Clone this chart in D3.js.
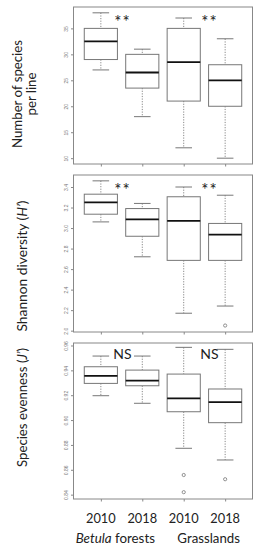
<!DOCTYPE html>
<html>
<head>
<meta charset="utf-8">
<title>Species richness, diversity and evenness</title>
<script src="https://d3js.org/d3.v7.min.js"></script>
<style>
  html, body { margin: 0; padding: 0; background: #fff; }
  svg { display: block; }
  .tick text { font-family: "Liberation Sans", Arial, sans-serif; fill: #777; }
  .lbl { font-family: Lato, "Open Sans", sans-serif; fill: #222; }
</style>
</head>
<body>
<svg id="chart"></svg>
<script>
// groups (year within habitat)
const years = ["2010", "2018", "2010", "2018"];
const habitats = ["Betula forests", "Grasslands"];

// number of species per line
const richLow = [27, 18, 12, 10];
const richQ1 = [29, 23.5, 21, 20];
const richMed = [32.5, 26.5, 28.5, 25];
const richQ3 = [35, 30, 35, 28];
const richHigh = [38, 31, 37, 33];
const richOut = [[], [], [], []];
const richTicks = [10, 15, 20, 25, 30, 35];

// Shannon diversity H'
const shanLow = [3.06, 2.72, 2.17, 2.24];
const shanQ1 = [3.135, 2.92, 2.685, 2.685];
const shanMed = [3.25, 3.085, 3.07, 2.935];
const shanQ3 = [3.33, 3.19, 3.305, 3.045];
const shanHigh = [3.46, 3.24, 3.40, 3.32];
const shanOut = [[], [], [], [2.05]];
const shanTicks = [2.0, 2.2, 2.4, 2.6, 2.8, 3.0, 3.2, 3.4];

// species evenness J'
const evenLow = [0.9196, 0.9135, 0.8773, 0.8679];
const evenQ1 = [0.9295, 0.9276, 0.9067, 0.8979];
const evenMed = [0.9356, 0.9318, 0.9175, 0.9145];
const evenQ3 = [0.9429, 0.9402, 0.937, 0.925];
const evenHigh = [0.9515, 0.9515, 0.9585, 0.9569];
const evenOut = [[], [], [0.8558, 0.842], [0.8524]];
const evenTicks = [0.84, 0.86, 0.88, 0.90, 0.92, 0.94, 0.96];

// significance of 2010 vs 2018 per habitat
const richSig = ["**", "**"];
const shanSig = ["**", "**"];
const evenSig = ["NS", "NS"];

const width = 260, height = 550;
const left = 73.5, right = 252.5;

const svg = d3.select("#chart").attr("width", width).attr("height", height);
svg.append("rect").attr("width", width).attr("height", height).attr("fill", "#fff");

// R boxplot style x range: 0.5..4.5 plus 4%
const x = d3.scaleLinear().domain([0.34, 4.66]).range([left, right]);
const boxHalf = (x(1.4) - x(0.6)) / 2;
const capHalf = boxHalf / 2;

const panels = [
  { top: 7, bottom: 164, domain: [8.88, 39.12], ticks: richTicks, fmt: d3.format("d"),
    low: richLow, q1: richQ1, med: richMed, q3: richQ3, high: richHigh, out: richOut, sig: richSig },
  { top: 175, bottom: 332, domain: [1.987, 3.517], ticks: shanTicks, fmt: d3.format(".1f"),
    low: shanLow, q1: shanQ1, med: shanMed, q3: shanQ3, high: shanHigh, out: shanOut, sig: shanSig },
  { top: 343, bottom: 499, domain: [0.8365, 0.962], ticks: evenTicks, fmt: d3.format(".2f"),
    low: evenLow, q1: evenQ1, med: evenMed, q3: evenQ3, high: evenHigh, out: evenOut, sig: evenSig }
];

const sigX = [122.5, 209.5];

panels.forEach(p => {
  const y = d3.scaleLinear().domain(p.domain).range([p.bottom, p.top]);
  const g = svg.append("g");

  // y axis with rotated labels
  const ya = g.append("g")
    .attr("transform", `translate(${left},0)`)
    .call(d3.axisLeft(y).tickValues(p.ticks).tickSize(2.5).tickFormat(p.fmt));
  ya.select(".domain").remove();
  ya.selectAll("line").attr("stroke", "#888");
  ya.selectAll("text")
    .attr("font-size", 5)
    .attr("x", 0).attr("y", -5.2).attr("dy", null)
    .attr("text-anchor", "middle")
    .attr("transform", "rotate(-90)");

  // x ticks at bottom
  const xa = g.append("g")
    .attr("transform", `translate(0,${p.bottom})`)
    .call(d3.axisBottom(x).tickValues([1, 2, 3, 4]).tickSize(2.5).tickFormat(""));
  xa.select(".domain").remove();
  xa.selectAll("line").attr("stroke", "#888");

  // frame
  g.append("rect")
    .attr("x", left).attr("y", p.top)
    .attr("width", right - left).attr("height", p.bottom - p.top)
    .attr("fill", "none").attr("stroke", "#888").attr("stroke-width", 1);

  years.forEach((yr, i) => {
    const cx = x(i + 1);
    const bx = g.append("g");
    // dotted whiskers
    bx.append("line").attr("x1", cx).attr("x2", cx)
      .attr("y1", y(p.high[i])).attr("y2", y(p.q3[i]))
      .attr("stroke", "#888").attr("stroke-dasharray", "1.2,1.4");
    bx.append("line").attr("x1", cx).attr("x2", cx)
      .attr("y1", y(p.q1[i])).attr("y2", y(p.low[i]))
      .attr("stroke", "#888").attr("stroke-dasharray", "1.2,1.4");
    // caps
    [p.high[i], p.low[i]].forEach(v => {
      bx.append("line").attr("x1", cx - capHalf).attr("x2", cx + capHalf)
        .attr("y1", y(v)).attr("y2", y(v)).attr("stroke", "#777");
    });
    // box
    bx.append("rect")
      .attr("x", cx - boxHalf).attr("width", boxHalf * 2)
      .attr("y", y(p.q3[i])).attr("height", y(p.q1[i]) - y(p.q3[i]))
      .attr("fill", "#fff").attr("stroke", "#777").attr("stroke-width", 1);
    // median
    bx.append("line").attr("x1", cx - boxHalf).attr("x2", cx + boxHalf)
      .attr("y1", y(p.med[i])).attr("y2", y(p.med[i]))
      .attr("stroke", "#111").attr("stroke-width", 1.8);
    // outliers
    bx.selectAll("circle").data(p.out[i]).join("circle")
      .attr("cx", cx).attr("cy", d => y(d)).attr("r", 1.6)
      .attr("fill", "none").attr("stroke", "#777").attr("stroke-width", 0.8);
  });

  // significance labels
  p.sig.forEach((s, k) => {
    const isStar = s === "**";
    g.append("text").attr("class", "lbl")
      .attr("x", sigX[k]).attr("y", p.top + (isStar ? 21 : 16))
      .attr("text-anchor", "middle")
      .attr("font-size", isStar ? 17 : 14)
      .attr("letter-spacing", isStar ? 1 : 0)
      .attr("fill", isStar ? "#444" : "#222")
      .text(s);
  });
});

// y titles (rotated)
function yTitle(xb, yc, len, parts) {
  const t = svg.append("text").attr("class", "lbl")
    .attr("transform", `translate(${xb},${yc}) rotate(-90)`)
    .attr("text-anchor", "middle").attr("font-size", 14)
    .attr("textLength", len).attr("lengthAdjust", "spacingAndGlyphs");
  parts.forEach(([txt, it]) => {
    t.append("tspan").attr("font-style", it ? "italic" : "normal").text(txt);
  });
}
yTitle(22, 94, 108, [["Number of species", false]]);
yTitle(35.5, 94, 43, [["per line", false]]);
yTitle(27, 266, 131, [["Shannon diversity (", false], ["H’", true], [")", false]]);
yTitle(26.5, 407.5, 119, [["Species evenness (", false], ["J’", true], [")", false]]);

// x labels
svg.append("g").selectAll("text").data(years).join("text")
  .attr("class", "lbl")
  .attr("x", (d, i) => x(i + 1)).attr("y", 523.3)
  .attr("text-anchor", "middle").attr("font-size", 14)
  .attr("textLength", 29.7).attr("lengthAdjust", "spacingAndGlyphs")
  .text(d => d);

const h1 = svg.append("text").attr("class", "lbl")
  .attr("x", 115.3).attr("y", 542.7).attr("text-anchor", "middle")
  .attr("font-size", 14).attr("textLength", 79.3).attr("lengthAdjust", "spacingAndGlyphs");
h1.append("tspan").attr("font-style", "italic").text(habitats[0].split(" ")[0]);
h1.append("tspan").text(" " + habitats[0].split(" ")[1]);

svg.append("text").attr("class", "lbl")
  .attr("x", 208.7).attr("y", 542.7).attr("text-anchor", "middle")
  .attr("font-size", 14).attr("textLength", 62.7).attr("lengthAdjust", "spacingAndGlyphs")
  .text(habitats[1]);
</script>
</body>
</html>
